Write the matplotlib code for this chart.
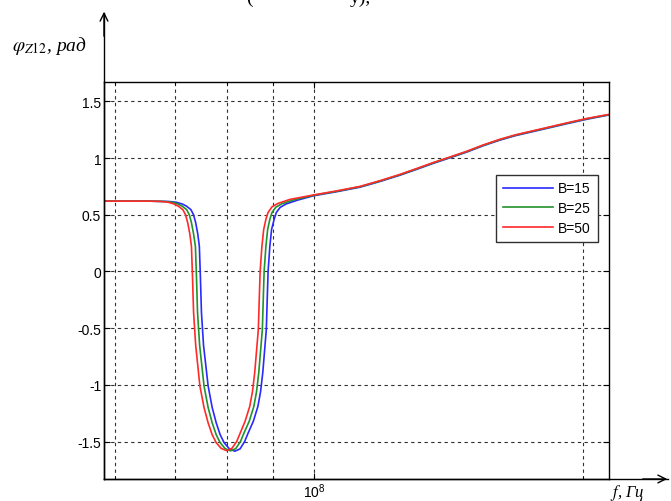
import matplotlib
matplotlib.use("Agg")
import matplotlib.pyplot as plt
from matplotlib.ticker import FixedLocator, NullFormatter
import numpy as np

plt.rcParams['font.family'] = ['Liberation Sans', 'DejaVu Sans']
plt.rcParams['mathtext.fontset'] = 'stix'

# frequency in MHz, phase in rad
f_15 = [58.3, 65.6, 68.9, 70.2, 71.3, 72.1, 72.9, 73.4, 73.8, 74.2, 74.5, 74.7, 74.9, 75.3, 76.2, 77.0,
        77.8, 78.6, 79.4, 80.5, 81.6, 82.7, 83.7, 84.4, 85.6, 86.6, 87.2, 87.7, 88.1, 88.5, 88.7, 88.9,
        89.3, 89.7, 90.3, 90.8, 91.7, 93.1, 96.0, 100, 106, 112.6, 118.5, 124.7, 130, 135.9, 142, 148.2,
        154.5, 161.3, 168, 175.6, 183.5, 191.7, 202, 213.6]
phi_15 = [0.62, 0.62, 0.617, 0.61, 0.595, 0.575, 0.545, 0.50, 0.43, 0.33, 0.22, -0.05, -0.36, -0.65, -1.01, -1.20,
          -1.335, -1.44, -1.51, -1.565, -1.585, -1.565, -1.50, -1.43, -1.32, -1.19, -1.06, -0.89, -0.70, -0.51, -0.25, 0.0,
          0.22, 0.37, 0.46, 0.52, 0.565, 0.595, 0.63, 0.668, 0.703, 0.743, 0.793, 0.848, 0.898, 0.953, 1.003, 1.053,
          1.108, 1.158, 1.198, 1.233, 1.268, 1.303, 1.343, 1.38]

f_25 = [58.3, 65.6, 68.2, 69.5, 70.5, 71.3, 72.1, 72.6, 73.0, 73.4, 73.75, 73.95, 74.15, 74.55, 75.4, 76.2,
        77.0, 77.8, 78.6, 79.6, 80.7, 81.8, 82.8, 83.5, 84.7, 85.7, 86.3, 86.8, 87.2, 87.6, 87.8, 88.0,
        88.4, 88.8, 89.3, 89.8, 90.7, 92.1, 95.0, 100, 106, 112.6, 118.5, 124.7, 130, 135.9, 142, 148.2,
        154.5, 161.3, 168, 175.6, 183.5, 191.7, 202, 213.6]
phi_25 = [0.62, 0.62, 0.617, 0.61, 0.595, 0.575, 0.545, 0.50, 0.43, 0.33, 0.22, -0.05, -0.36, -0.65, -1.01, -1.20,
          -1.335, -1.44, -1.51, -1.562, -1.582, -1.562, -1.50, -1.43, -1.32, -1.19, -1.06, -0.89, -0.70, -0.51, -0.25, 0.0,
          0.22, 0.37, 0.46, 0.52, 0.567, 0.597, 0.632, 0.672, 0.707, 0.747, 0.797, 0.852, 0.902, 0.957, 1.007, 1.057,
          1.112, 1.162, 1.202, 1.237, 1.272, 1.307, 1.347, 1.383]

f_50 = [58.3, 65.6, 67.5, 68.8, 69.8, 70.6, 71.4, 71.9, 72.3, 72.7, 73.0, 73.2, 73.4, 73.8, 74.6, 75.4,
        76.2, 77.0, 77.8, 78.8, 79.9, 81.0, 82.0, 82.7, 83.8, 84.8, 85.4, 85.9, 86.3, 86.7, 86.9, 87.1,
        87.5, 87.9, 88.4, 88.9, 89.8, 91.2, 94.0, 100, 106, 112.6, 118.5, 124.7, 130, 135.9, 142, 148.2,
        154.5, 161.3, 168, 175.6, 183.5, 191.7, 202, 213.6]
phi_50 = [0.62, 0.62, 0.617, 0.61, 0.595, 0.575, 0.545, 0.50, 0.43, 0.33, 0.22, -0.05, -0.36, -0.65, -1.01, -1.20,
          -1.335, -1.44, -1.51, -1.56, -1.58, -1.56, -1.50, -1.43, -1.32, -1.19, -1.06, -0.89, -0.70, -0.51, -0.25, 0.0,
          0.22, 0.37, 0.46, 0.52, 0.57, 0.60, 0.635, 0.675, 0.71, 0.75, 0.80, 0.855, 0.905, 0.96, 1.01, 1.06,
          1.115, 1.165, 1.205, 1.24, 1.275, 1.31, 1.35, 1.385]

labels = ['B=15', 'B=25', 'B=50']
y_ticks = [-1.5, -1, -0.5, 0, 0.5, 1, 1.5]
y_ticklabels = ['-1.5', '-1', '-0.5', '0', '0.5', '1', '1.5']
x_minor = [6e7, 7e7, 8e7, 9e7, 2e8]

fig = plt.figure(figsize=(6.71, 5.02), dpi=100)
ax = fig.add_axes([104 / 671, 1 - 480 / 502, (609 - 104) / 671, (480 - 82.5) / 502])

ax.plot(np.array(f_15) * 1e6, phi_15, color='#2a2aff', lw=1.2, label=labels[0])
ax.plot(np.array(f_25) * 1e6, phi_25, color='#22922a', lw=1.2, label=labels[1])
ax.plot(np.array(f_50) * 1e6, phi_50, color='#ff2a2a', lw=1.2, label=labels[2])

ax.set_xscale('log')
ax.set_xlim(58.3e6, 213.6e6)
ax.set_ylim(-1.83, 1.675)
ax.xaxis.set_major_locator(FixedLocator([1e8]))
ax.xaxis.set_minor_locator(FixedLocator(x_minor))
ax.xaxis.set_minor_formatter(NullFormatter())
ax.set_yticks(y_ticks)
ax.set_yticklabels(y_ticklabels)
ax.tick_params(which='both', direction='in', top=True, right=True, labelsize=10, pad=2)
ax.tick_params(which='major', length=4)
ax.tick_params(which='minor', length=2)
ax.grid(True, which='both', color='#303030', linestyle=(0, (3, 3)), lw=0.8)
for s in ax.spines.values():
    s.set_linewidth(1.0)

leg = ax.legend(loc='upper right', bbox_to_anchor=(598 / 671, 1 - 175.5 / 502),
                bbox_transform=fig.transFigure, borderaxespad=0, fontsize=10, fancybox=False,
                framealpha=1, edgecolor='#303030', handlelength=3.6,
                borderpad=0.5, labelspacing=0.42, handletextpad=0.4)
leg.get_frame().set_linewidth(1.0)

# extended axes with arrows
fig.add_artist(plt.Line2D([104 / 671, 104 / 671], [1 - 480 / 502, 1 - 14 / 502], color='black', lw=1.0))
fig.add_artist(plt.Line2D([104 / 671, 668 / 671], [1 - 480 / 502, 1 - 480 / 502], color='black', lw=1.0))
ax.annotate('', xy=(104 / 671, 1 - 10 / 502), xytext=(104 / 671, 1 - 40 / 502),
            xycoords='figure fraction', textcoords='figure fraction',
            arrowprops=dict(arrowstyle='->', lw=1.0, color='black', mutation_scale=14))
ax.annotate('', xy=(670 / 671, 1 - 480 / 502), xytext=(640 / 671, 1 - 480 / 502),
            xycoords='figure fraction', textcoords='figure fraction',
            arrowprops=dict(arrowstyle='->', lw=1.0, color='black', mutation_scale=14))

fig.text(12 / 671, 1 - 46 / 502, r'$\varphi_{Z12}$, рад', fontsize=14, family=['Liberation Serif', 'DejaVu Serif'],
         style='italic', va='center', ha='left')
fig.text(610 / 671, 1 - 493 / 502, r'$f$, Гц', fontsize=12, family=['Liberation Serif', 'DejaVu Serif'],
         style='italic', va='center', ha='left')

# caption above the figure, cut off at the top edge
fig.text(246 / 671, 1 - 3 / 502, '(', fontsize=14, family=['Liberation Serif', 'DejaVu Serif'],
         va='baseline', ha='left')
fig.text(350 / 671, 1 - 3 / 502, 'у),', fontsize=14, family=['Liberation Serif', 'DejaVu Serif'],
         va='baseline', ha='left')

fig.savefig('out.png', dpi=100)
